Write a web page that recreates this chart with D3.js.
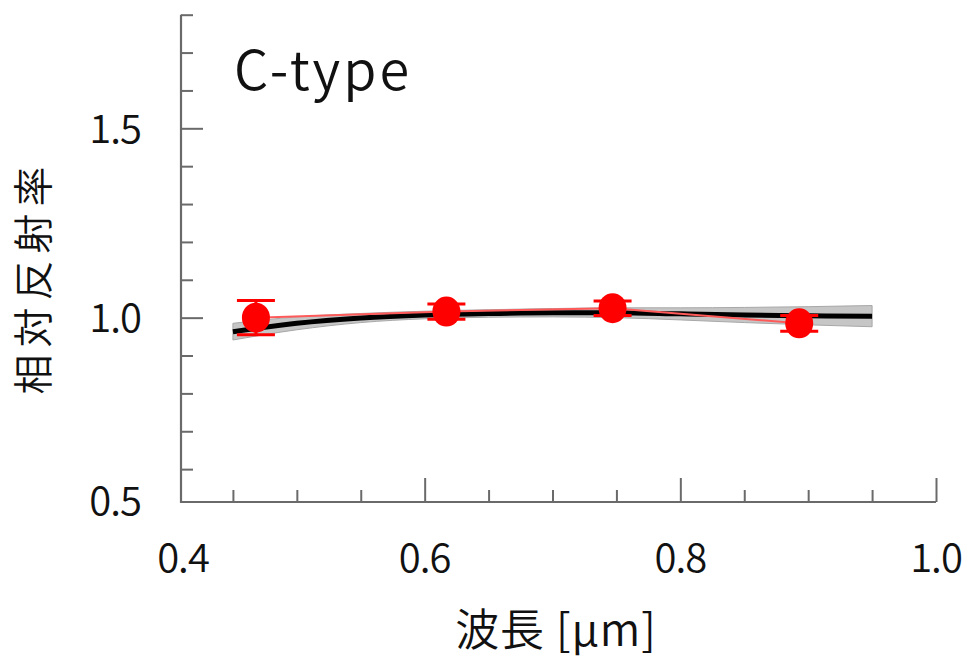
<!DOCTYPE html>
<html>
<head>
<meta charset="utf-8">
<script src="https://cdn.jsdelivr.net/npm/d3@7"></script>
<style>
  html, body { margin: 0; padding: 0; background: #fff; }
  svg { display: block; }
  text { font-family: "Noto Sans CJK JP", "Noto Sans", sans-serif; fill: #111; font-weight: 350; }
</style>
</head>
<body>
<svg id="chart" width="967" height="660"></svg>
<script>
// ---- data ----
const title = "C-type";
const xLabel = "波長 [μm]";
const yLabel = "相対反射率";

// observed points (wavelength in μm, relative reflectance, error)
const obsWavelength = [0.468, 0.617, 0.747, 0.893];
const obsReflectance = [1.000, 1.016, 1.025, 0.985];
const obsError = [0.045, 0.020, 0.019, 0.021];

// model curve and its spread
const modelWavelength = [0.45, 0.50, 0.55, 0.60, 0.65, 0.70, 0.75, 0.80, 0.85, 0.90, 0.95];
const modelReflectance = [0.963, 0.985, 0.999, 1.007, 1.011, 1.013, 1.013, 1.010, 1.007, 1.005, 1.004];
const modelSpread = [0.022, 0.017, 0.012, 0.010, 0.010, 0.011, 0.013, 0.016, 0.020, 0.024, 0.028];

// ticks
const xTicks = [0.45, 0.5, 0.55, 0.6, 0.65, 0.7, 0.75, 0.8, 0.85, 0.9, 0.95, 1.0];
const xMajor = [0.6, 0.8, 1.0];
const xTickLabels = ["0.4", "0.6", "0.8", "1.0"];
const yTicks = [0.6, 0.7, 0.8, 0.9, 1.0, 1.1, 1.2, 1.3, 1.4, 1.5, 1.6, 1.7, 1.8];
const yMajor = [1.0, 1.5];
const yTickLabels = ["0.5", "1.0", "1.5"];

// ---- layout ----
const svg = d3.select("#chart");
const x = d3.scaleLinear().domain([0.4, 1.0]).range([169, 936]);
const y = d3.scaleLinear().domain([0.5, 1.8]).range([507, 14.7]);
const axisLeftX = 181;   // where the y axis sits
const axisBottomY = 502; // where the x axis sits
const axisColor = "#6a6a6a";
const isMajor = (arr, v) => arr.some(m => Math.abs(m - v) < 1e-9);

// y axis ticks (pointing inward / right)
const yAxis = d3.axisRight(y).tickValues(yTicks).tickSize(12).tickFormat("");
const yg = svg.append("g").attr("transform", `translate(${axisLeftX},0)`).call(yAxis);
yg.select(".domain").remove();
yg.selectAll(".tick line")
  .attr("x2", d => isMajor(yMajor, d) ? 22 : 12)
  .attr("stroke", axisColor).attr("stroke-width", 2);

// x axis ticks (pointing inward / up)
const xAxis = d3.axisTop(x).tickValues(xTicks).tickSize(12).tickFormat("");
const xg = svg.append("g").attr("transform", `translate(0,${axisBottomY})`).call(xAxis);
xg.select(".domain").remove();
xg.selectAll(".tick line")
  .attr("y2", d => isMajor(xMajor, d) ? -24 : -12)
  .attr("stroke", axisColor).attr("stroke-width", 2);

// axis lines
svg.append("path")
  .attr("d", `M${axisLeftX},${y(1.8)}V${axisBottomY}H${x(1.0)}`)
  .attr("fill", "none").attr("stroke", axisColor).attr("stroke-width", 2.2);

// tick labels
svg.selectAll(".xlab").data(xTickLabels).enter().append("text")
  .attr("class", "xlab")
  .attr("x", d => Math.max(x(+d), axisLeftX + 2))
  .attr("y", 572)
  .attr("text-anchor", "middle")
  .attr("font-size", 40)
  .attr("letter-spacing", -1)
  .text(d => d);

svg.selectAll(".ylab").data(yTickLabels).enter().append("text")
  .attr("class", "ylab")
  .attr("x", 141)
  .attr("y", d => Math.min(y(+d), axisBottomY - 1))
  .attr("dy", "0.36em")
  .attr("text-anchor", "end")
  .attr("font-size", 40)
  .attr("letter-spacing", -1)
  .text(d => d);

// model band
const modelData = modelWavelength.map((w, i) => ({w, r: modelReflectance[i], s: modelSpread[i]}));
const band = d3.area()
  .x(d => x(d.w))
  .y0(d => y(d.r - d.s))
  .y1(d => y(d.r + d.s))
  .curve(d3.curveMonotoneX);
svg.append("path").datum(modelData)
  .attr("d", band)
  .attr("fill", "#c6c6c6")
  .attr("stroke", "#a8a8a8").attr("stroke-width", 1);

// model curve
const line = d3.line().x(d => x(d.w)).y(d => y(d.r)).curve(d3.curveMonotoneX);
svg.append("path").datum(modelData)
  .attr("d", line)
  .attr("fill", "none").attr("stroke", "#000").attr("stroke-width", 5);

// observed line
const obsData = obsWavelength.map((w, i) => ({w, r: obsReflectance[i], e: obsError[i]}));
svg.append("path").datum(obsData)
  .attr("d", d3.line().x(d => x(d.w)).y(d => y(d.r)))
  .attr("fill", "none").attr("stroke", "#ff5a5a").attr("stroke-width", 2);

// error bars
const eb = svg.append("g").attr("stroke", "#ff0000").attr("stroke-width", 3);
obsData.forEach(d => {
  eb.append("line").attr("x1", x(d.w)).attr("x2", x(d.w)).attr("y1", y(d.r - d.e)).attr("y2", y(d.r + d.e));
  eb.append("line").attr("x1", x(d.w) - 19).attr("x2", x(d.w) + 19).attr("y1", y(d.r + d.e)).attr("y2", y(d.r + d.e));
  eb.append("line").attr("x1", x(d.w) - 19).attr("x2", x(d.w) + 19).attr("y1", y(d.r - d.e)).attr("y2", y(d.r - d.e));
});

// points
svg.selectAll(".pt").data(obsData).enter().append("ellipse")
  .attr("class", "pt")
  .attr("cx", d => x(d.w)).attr("cy", d => y(d.r))
  .attr("rx", 14).attr("ry", 15)
  .attr("fill", "#ff0000");

// title
svg.append("text")
  .attr("x", 234).attr("y", 90)
  .attr("font-size", 54)
  .attr("letter-spacing", 3)
  .text(title);

// axis titles
svg.append("text")
  .attr("x", 556).attr("y", 646)
  .attr("text-anchor", "middle")
  .attr("font-size", 44)
  .attr("letter-spacing", 1)
  .text(xLabel);

svg.append("text")
  .attr("transform", "translate(48,277) rotate(-90)")
  .attr("text-anchor", "middle")
  .attr("font-size", 40)
  .attr("letter-spacing", 7)
  .text(yLabel);
</script>
</body>
</html>
